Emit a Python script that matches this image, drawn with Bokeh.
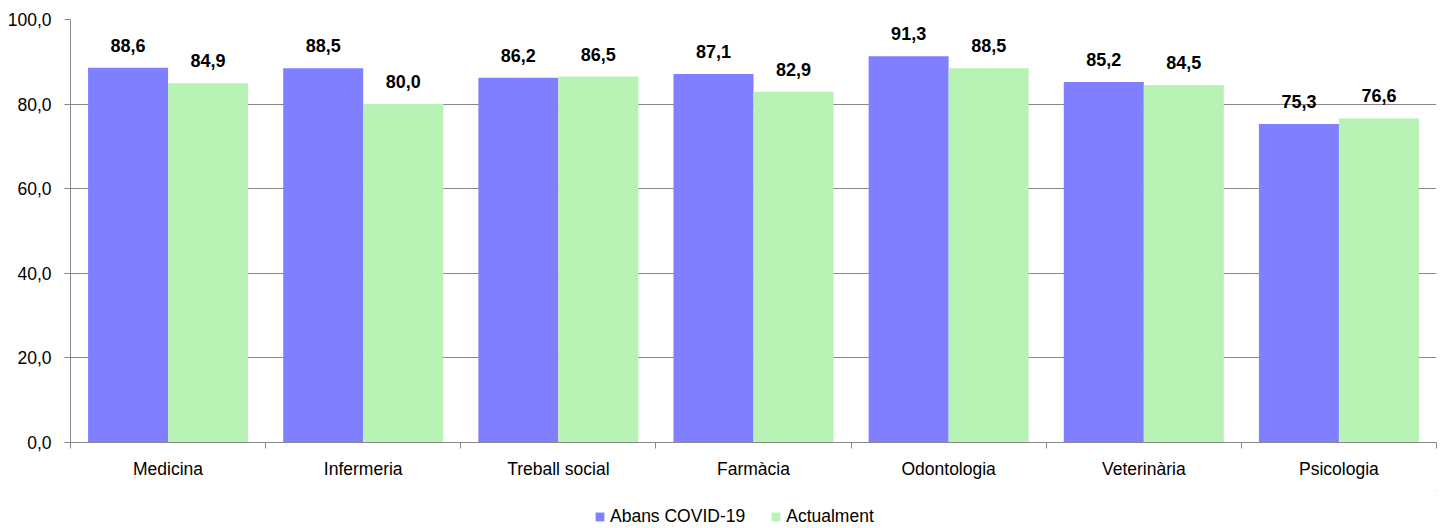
from bokeh.plotting import figure
from bokeh.layouts import column
from bokeh.models import (Range1d, FixedTicker, Legend, LegendItem, ColumnDataSource)
from bokeh.core.properties import value
from bokeh.embed import file_html
from bokeh.resources import INLINE

categories = ["Medicina", "Infermeria", "Treball social", "Farmàcia",
              "Odontologia", "Veterinària", "Psicologia"]
abans = [88.6, 88.5, 86.2, 87.1, 91.3, 85.2, 75.3]
actualment = [84.9, 80.0, 86.5, 82.9, 88.5, 84.5, 76.6]
series_names = ["Abans COVID-19", "Actualment"]
y_ticks = [0, 20, 40, 60, 80, 100]

FONT = "Liberation Sans"
BLUE = "#7F7FFF"
GREEN = "#B9F2B5"
GRAY = "#888888"

n = len(categories)
centers = [i + 0.5 for i in range(n)]
bar_w = 0.41

def fmt(v):
    return f"{v:.1f}".replace(".", ",")

src_a = ColumnDataSource(dict(x=[c - bar_w / 2 for c in centers], top=abans,
                              lab=[fmt(v) for v in abans]))
src_b = ColumnDataSource(dict(x=[c + bar_w / 2 for c in centers], top=actualment,
                              lab=[fmt(v) for v in actualment]))

p = figure(width=1445, height=490, output_backend="svg", toolbar_location=None,
           x_range=Range1d(0, n), y_range=Range1d(0, 100),
           min_border_left=70, min_border_right=9, min_border_top=19,
           min_border_bottom=48)
p.outline_line_color = None
p.background_fill_color = "white"
p.border_fill_color = "white"

r_a = p.vbar(x="x", top="top", width=bar_w, source=src_a, fill_color=BLUE, line_color=None)
r_b = p.vbar(x="x", top="top", width=bar_w, source=src_b, fill_color=GREEN, line_color=None)

for src in (src_a, src_b):
    p.text(x="x", y="top", text="lab", source=src, text_align="center",
           text_baseline="bottom", y_offset=-16,
           text_font=value(FONT), text_font_size="18px", text_font_style="bold",
           text_color="black")

# axes
p.xgrid.grid_line_color = None
p.ygrid.ticker = FixedTicker(ticks=y_ticks)
p.ygrid.grid_line_color = GRAY
p.ygrid.grid_line_width = 1

p.yaxis.ticker = FixedTicker(ticks=y_ticks)
p.yaxis.major_label_overrides = {t: fmt(t) for t in y_ticks}
p.yaxis.axis_line_color = GRAY
p.yaxis.major_tick_line_color = GRAY
p.yaxis.major_tick_out = 6
p.yaxis.major_tick_in = 0
p.yaxis.minor_tick_line_color = None
p.yaxis.major_label_standoff = 13
p.yaxis.major_label_text_font = FONT
p.yaxis.major_label_text_font_size = "17.5px"
p.yaxis.major_label_text_color = "black"

p.xaxis.ticker = FixedTicker(ticks=centers, minor_ticks=list(range(n + 1)))
p.xaxis.major_label_overrides = {c: name for c, name in zip(centers, categories)}
p.xaxis.axis_line_color = GRAY
p.xaxis.major_tick_line_color = None
p.xaxis.major_tick_out = 0
p.xaxis.major_tick_in = 0
p.xaxis.minor_tick_line_color = GRAY
p.xaxis.minor_tick_out = 6
p.xaxis.minor_tick_in = 0
p.xaxis.major_label_standoff = 10
p.xaxis.major_label_text_font = FONT
p.xaxis.major_label_text_font_size = "17.5px"
p.xaxis.major_label_text_color = "black"

# legend strip beneath the chart (its ranges keep the bars out of view)
pl = figure(width=1445, height=38, output_backend="svg", toolbar_location=None,
            x_axis_type=None, y_axis_type=None,
            x_range=Range1d(-100, -99), y_range=Range1d(-100, -99),
            min_border_left=0, min_border_right=0, min_border_top=0,
            min_border_bottom=0)
pl.outline_line_color = None
l_a = pl.vbar(x="x", top="top", width=bar_w, source=src_a, fill_color=BLUE, line_color=None)
l_b = pl.vbar(x="x", top="top", width=bar_w, source=src_b, fill_color=GREEN, line_color=None)

legend = Legend(items=[LegendItem(label=series_names[0], renderers=[l_a]),
                       LegendItem(label=series_names[1], renderers=[l_b])],
                location=(524, 1), orientation="horizontal",
                padding=0, margin=0, spacing=25, label_standoff=5,
                glyph_width=11, glyph_height=11,
                border_line_color=None, background_fill_alpha=0,
                label_text_font=FONT, label_text_font_size="17.5px",
                label_text_color="black")
pl.add_layout(legend, "center")

layout = column(p, pl, spacing=0)
open("out.html", "w").write(file_html(layout, INLINE))
